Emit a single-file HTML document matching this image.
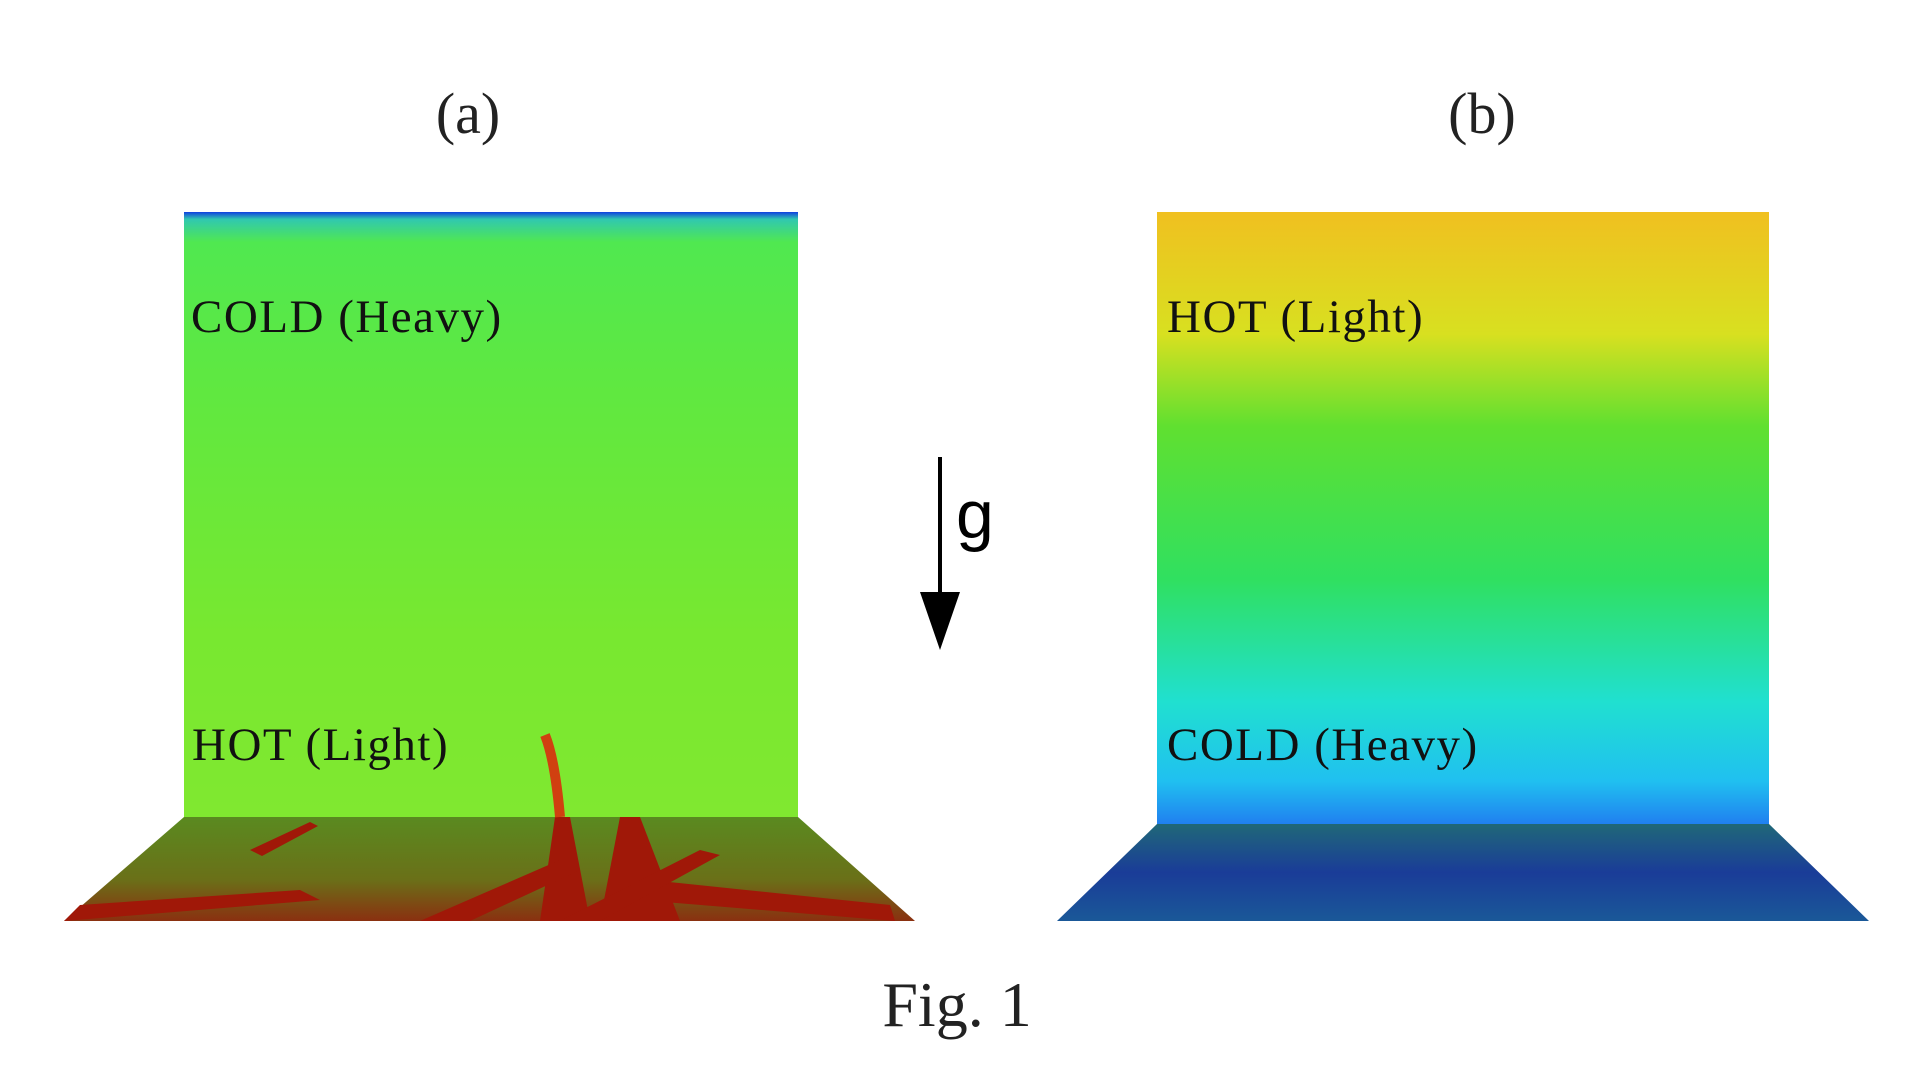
<!DOCTYPE html>
<html><head><meta charset="utf-8"><style>
body{margin:0;width:1920px;height:1080px;background:#fff;position:relative;overflow:hidden;font-family:"Liberation Serif",serif}
.t{position:absolute;color:#222;white-space:nowrap}
.lab{font-size:58px;transform:translateX(-50%)}
.in{font-size:47px;color:#111;letter-spacing:1.5px}
</style></head><body>
<div class="t lab" style="left:468px;top:80px">(a)</div>
<div class="t lab" style="left:1482px;top:80px">(b)</div>
<div class="t lab" style="left:957px;top:968px;font-size:64px">Fig. 1</div>

<svg width="1920" height="1080" style="position:absolute;left:0;top:0">
<defs>
<linearGradient id="ga" x1="0" y1="0" x2="0" y2="1">
<stop offset="0" stop-color="#1040e0"/><stop offset="0.012" stop-color="#30c8b0"/><stop offset="0.05" stop-color="#50e850"/>
<stop offset="0.3" stop-color="#60e840"/><stop offset="0.7" stop-color="#78e830"/><stop offset="1" stop-color="#80e830"/>
</linearGradient>
<linearGradient id="gb" x1="0" y1="0" x2="0" y2="1">
<stop offset="0" stop-color="#f0c020"/><stop offset="0.2" stop-color="#d8e020"/><stop offset="0.35" stop-color="#60e030"/>
<stop offset="0.6" stop-color="#30e060"/><stop offset="0.8" stop-color="#20e0d0"/><stop offset="0.93" stop-color="#20c0f0"/><stop offset="1" stop-color="#2080f0"/>
</linearGradient>
<linearGradient id="fa" x1="0" y1="0" x2="0" y2="1">
<stop offset="0" stop-color="#5a8a20"/><stop offset="0.6" stop-color="#6a7018"/><stop offset="1" stop-color="#8a3010"/>
</linearGradient>
<linearGradient id="fb" x1="0" y1="0" x2="0" y2="1">
<stop offset="0" stop-color="#206878"/><stop offset="0.5" stop-color="#1a3c98"/><stop offset="1" stop-color="#1a5898"/>
</linearGradient>
</defs>
<rect x="184" y="212" width="614" height="605" fill="url(#ga)"/>
<polygon points="184,817 798,817 915,921 64,921" fill="url(#fa)"/>
<g fill="#a01808">
<path d="M540,921 L555,817 L570,817 L590,921 Z"/>
<path d="M600,921 L620,817 L640,817 L680,921Z"/>
<path d="M420,921 L560,860 L580,870 L470,921Z"/>
<path d="M650,880 L890,905 L895,921 L640,900Z"/>
<path d="M80,905 L300,890 L320,900 L64,921Z"/>
<path d="M250,850 L310,822 L318,826 L262,856Z"/>
<path d="M560,921 L700,850 L720,855 L600,921Z"/>
</g>
<path d="M560,817 Q555,760 545,735" stroke="#d04010" stroke-width="10" fill="none"/>
<rect x="1157" y="212" width="612" height="612" fill="url(#gb)"/>
<polygon points="1157,824 1769,824 1869,921 1057,921" fill="url(#fb)"/>
<line x1="940" y1="457" x2="940" y2="600" stroke="#000" stroke-width="4"/>
<polygon points="920,592 960,592 940,650" fill="#000"/>
</svg>
<div class="t" style="left:956px;top:476px;font-family:'Liberation Sans',sans-serif;font-size:68px;color:#000">g</div>

<div class="t in" style="left:191px;top:290px">COLD (Heavy)</div>
<div class="t in" style="left:192px;top:718px">HOT (Light)</div>
<div class="t in" style="left:1167px;top:290px">HOT (Light)</div>
<div class="t in" style="left:1167px;top:718px">COLD (Heavy)</div>
</body></html>
